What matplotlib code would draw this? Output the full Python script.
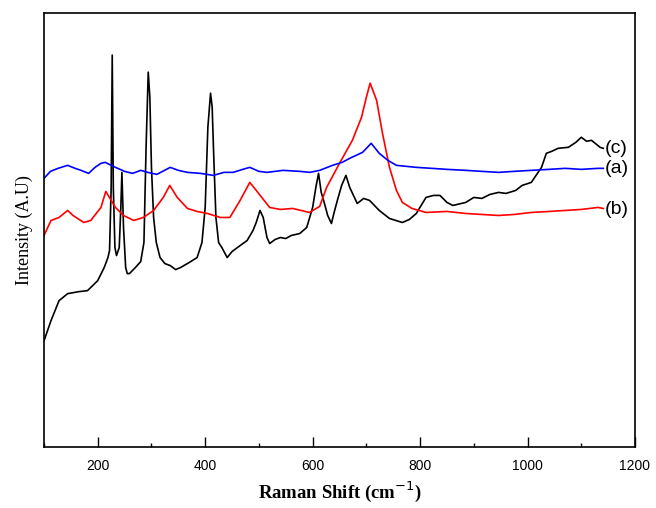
import matplotlib
matplotlib.use("Agg")
import matplotlib.pyplot as plt
from matplotlib.ticker import MultipleLocator

# Raman shift (cm-1) / intensity (arbitrary units)
shift_a = [100, 112, 126, 144, 158, 169, 183, 195, 206, 214, 225, 233, 250, 265,
           280, 293, 310, 335, 350, 367, 391, 415, 435, 452, 470, 483, 500, 515,
           545, 576, 595, 613, 637, 655, 669, 693, 709, 724, 740, 756, 793, 822,
           850, 885, 915, 946, 975, 1007, 1040, 1070, 1100, 1131, 1141]
inten_a = [269, 276, 279, 282, 279, 277, 274, 280, 284, 285, 282, 280, 276, 274,
           277, 275, 273, 280, 277, 275, 274, 272, 275, 275, 278, 280, 276, 275,
           277, 276, 275, 277, 282, 285, 289, 295, 304, 294, 287, 282, 280, 279,
           278, 277, 276, 275, 276, 277, 278, 279, 278, 279, 279]

shift_b = [100, 113, 128, 144, 154, 174, 187, 206, 215, 233, 248, 267, 285, 304,
           322, 334, 348, 367, 385, 404, 428, 446, 465, 483, 498, 520, 540, 563,
           594, 613, 626, 650, 674, 691, 700, 707, 719, 730, 743, 756, 767, 785,
           811, 850, 885, 915, 946, 975, 1007, 1040, 1070, 1100, 1131, 1141]
inten_b = [212, 227, 230, 237, 232, 225, 227, 240, 256, 240, 232, 227, 230, 237,
           250, 262, 250, 239, 236, 234, 230, 230, 247, 265, 255, 240, 238, 239,
           235, 241, 260, 284, 307, 330, 350, 364, 347, 314, 280, 257, 245, 239,
           235, 236, 234, 233, 232, 233, 235, 236, 237, 238, 240, 239]

shift_c = [100, 113, 128, 144, 165, 181, 200, 212, 219, 222, 225, 227, 229, 232,
           235, 240, 243, 245, 248, 252, 255, 259, 270, 280, 286, 290, 294, 297,
           300, 304, 309, 316, 325, 335, 345, 354, 370, 385, 394, 400, 405, 410,
           413, 416, 420, 425, 431, 441, 450, 460, 478, 489, 495, 502, 508, 515,
           520, 530, 540, 550, 560, 576, 589, 600, 606, 611, 616, 622, 628, 635,
           640, 646, 654, 662, 669, 683, 695, 706, 724, 743, 767, 780, 793, 811,
           825, 837, 850, 861, 885, 900, 915, 930, 946, 960, 978, 990, 1007, 1026,
           1035, 1045, 1057, 1076, 1090, 1100, 1110, 1119, 1135, 1141]
inten_c = [107, 127, 147, 154, 156, 157, 167, 180, 190, 197, 260, 392, 260, 200,
           192, 200, 240, 275, 220, 180, 174, 174, 180, 186, 205, 300, 375, 350,
           280, 230, 205, 190, 184, 182, 178, 180, 185, 190, 205, 240, 320, 354,
           340, 290, 230, 205, 200, 190, 196, 200, 207, 217, 225, 237, 230, 210,
           204, 208, 210, 209, 212, 214, 220, 240, 260, 274, 255, 244, 232, 224,
           235, 247, 262, 272, 260, 244, 249, 247, 237, 229, 225, 228, 234, 250,
           252, 252, 245, 242, 245, 250, 249, 253, 255, 254, 257, 262, 265, 280,
           294, 296, 299, 300, 305, 310, 306, 307, 300, 299]

labels = ['(a)', '(b)', '(c)']

fig = plt.figure(figsize=(6.56, 5.08), dpi=100)
ax = fig.add_axes([44/656, 61/508, 591/656, 434/508])

ax.plot(shift_c, inten_c, color='black', lw=1.2)
ax.plot(shift_b, inten_b, color='red', lw=1.2)
ax.plot(shift_a, inten_a, color='blue', lw=1.2)

# curve labels at the right end of each trace
ax.text(1143, inten_a[-1], labels[0], fontsize=14, family='Liberation Sans', va='center')
ax.text(1143, inten_b[-1] - 1, labels[1], fontsize=14, family='Liberation Sans', va='center')
ax.text(1143, inten_c[-1], labels[2], fontsize=14, family='Liberation Sans', va='center')

ax.set_xlim(100, 1200)
ax.set_ylim(1, 434)
ax.xaxis.set_major_locator(MultipleLocator(200))
ax.xaxis.set_minor_locator(MultipleLocator(100))
ax.tick_params(axis='x', which='major', direction='in', length=7, width=1,
               labelsize=10, pad=9)
ax.tick_params(axis='x', which='minor', direction='in', length=3, width=1)
ax.set_yticks([])
for lab in ax.get_xticklabels():
    lab.set_family('Liberation Sans')

for sp in ax.spines.values():
    sp.set_linewidth(1.2)

ax.set_xlabel('Raman Shift (cm$^{-1}$)', family='Liberation Serif',
              fontweight='bold', fontsize=13.5, labelpad=4)
ax.set_ylabel('Intensity (A.U)', family='Liberation Serif', fontsize=13, labelpad=8)

fig.savefig('out.png', dpi=100)
